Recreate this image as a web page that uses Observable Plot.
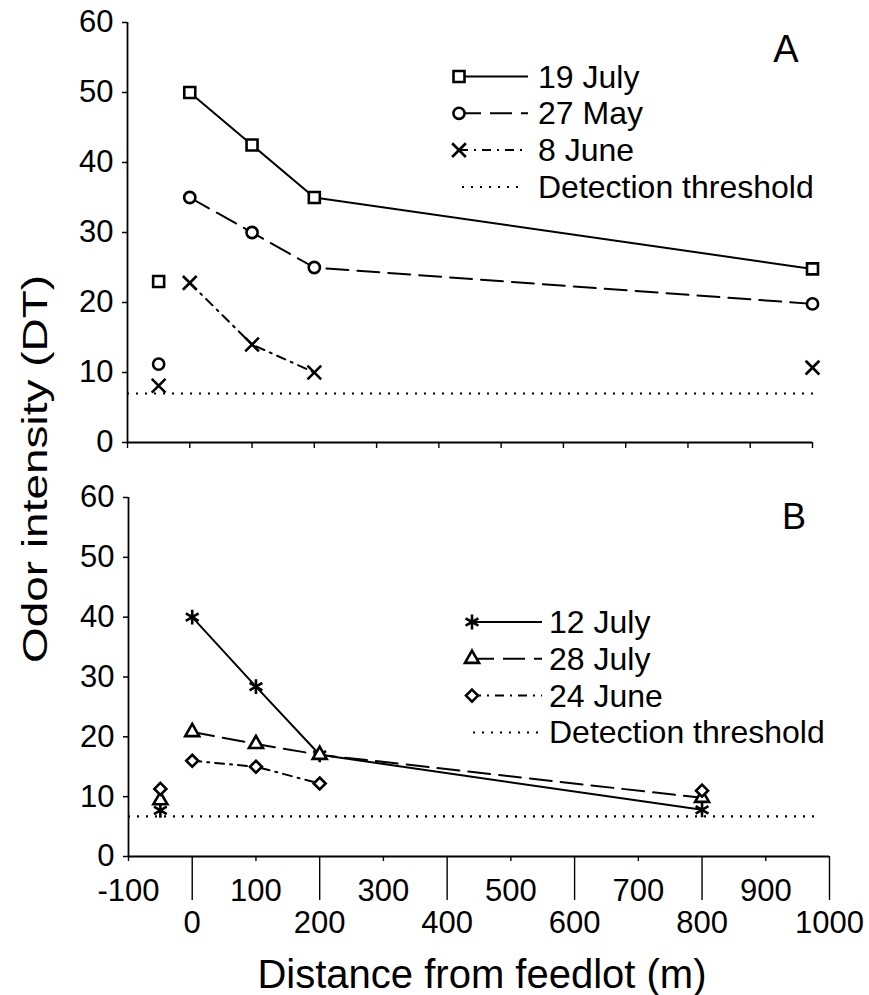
<!DOCTYPE html>
<html><head><meta charset="utf-8">
<script src="https://cdn.jsdelivr.net/npm/d3@7"></script>
<script src="https://cdn.jsdelivr.net/npm/@observablehq/plot@0.6"></script>
<style>
body{margin:0;background:#fff;}
#root{position:relative;width:869px;height:995px;background:#fff;font-family:"Liberation Sans",Arial,sans-serif;}
#root > svg{position:absolute;left:0;}
</style></head><body><div id="root"></div>
<script>
// ---------- data ----------
const seriesA = ["19 July", "27 May", "8 June"];
const distA = [-50, 0, 100, 200, 1000];
const july19A = [23, 50, 42.5, 35, 24.8];
const may27A = [11.2, 35, 30, 25, 19.8];
const june8A = [8.1, 22.8, 14, 10, 10.7];
const lineEndA = [1000, 1000, 200];

const seriesB = ["12 July", "28 July", "24 June"];
const distB = [-50, 0, 100, 200, 800];
const july12B = [7.7, 40, 28.4, 17, 7.8];
const july28B = [9.4, 20.8, 18.8, 17, 9.8];
const june24B = [11.3, 16, 15, 12.2, 11];
const lineEndB = [800, 800, 200];

const thresholdLabel = "Detection threshold";
const thresholdA = 7;
const thresholdB = 6.7;
const thresholdSpanA = [-100, 1010];
const thresholdSpanB = [-100, 980];

const xDomain = [-100, 1000];
const yDomain = [0, 60];
const yTicks = [0, 10, 20, 30, 40, 50, 60];
const xTicksAll = [-100, 0, 100, 200, 300, 400, 500, 600, 700, 800, 900, 1000];
const xTicksOdd = [-100, 100, 300, 500, 700, 900];
const xTicksEven = [0, 200, 400, 600, 800, 1000];

const xTitle = "Distance from feedlot (m)";
const yTitle = "Odor intensity (DT)";

// ---------- styles ----------
const FONT = "Liberation Sans, Arial, Helvetica, sans-serif";
const dashes = [null, "22,9", "9,6,2,6"];
const symbolsA = ["square", "circle", "times"];
const symbolsB = ["asterisk", "triangle", "diamond2"];
const radiiA = [6.2, 5.6, 6.3];
const radiiB = [7, 5.2, 5.4];
const DOT_SW = 2.6;
const LINE_SW = 2;

function buildRows(series, dist, values) {
  const rows = [];
  series.forEach((name, i) => values[i].forEach((v, j) => rows.push({series: name, idx: i, x: dist[j], y: v})));
  return rows;
}

function panel(o) {
  const rows = buildRows(o.series, o.dist, o.values);
  const marks = [
    Plot.ruleY([o.threshold], {x1: o.thrSpan[0], x2: o.thrSpan[1], stroke: "#000", strokeWidth: 2.2, strokeDasharray: "2,7"}),
    Plot.ruleX([xDomain[0]], {y1: yDomain[0], y2: yDomain[1], stroke: "#000", strokeWidth: 1.8}),
    Plot.ruleY([yDomain[0]], {x1: xDomain[0], x2: xDomain[1], stroke: "#000", strokeWidth: 1.8}),
    Plot.axisY({ticks: yTicks, tickSize: 5, tickPadding: 9, tickFormat: d => String(d), label: null, strokeWidth: 1.5})
  ];
  if (o.labeled) {
    marks.push(Plot.axisX({ticks: xTicksEven, tickSize: 44, tickPadding: 10, tickFormat: d => String(d), label: null, strokeWidth: 1.4}));
    marks.push(Plot.axisX({ticks: xTicksOdd, tickSize: 5, tickPadding: 17, tickFormat: d => String(d), label: null, strokeWidth: 1.4}));
  } else {
    marks.push(Plot.axisX({ticks: xTicksAll, tickSize: 6, tickFormat: () => "", label: null, strokeWidth: 1.4}));
  }
  o.series.forEach((name, i) => {
    marks.push(Plot.line(rows.filter(r => r.idx === i && r.x >= 0 && r.x <= o.lineEnd[i]),
      {x: "x", y: "y", stroke: "#000", strokeWidth: LINE_SW, strokeDasharray: dashes[i] || undefined}));
  });
  o.series.forEach((name, i) => {
    marks.push(Plot.dot(rows.filter(r => r.idx === i),
      {x: "x", y: "y", symbol: o.symbols[i], r: o.radii[i], fill: "white", stroke: "#000", strokeWidth: DOT_SW}));
  });
  return Plot.plot({
    width: 869, height: o.height,
    marginLeft: o.ml, marginRight: o.mr, marginTop: o.mt, marginBottom: o.mb,
    x: {domain: xDomain},
    y: {domain: yDomain},
    style: {fontFamily: FONT, fontSize: "31px", color: "#000", background: "transparent", overflow: "visible"},
    marks
  });
}

const root = document.getElementById("root");
const plotA = panel({series: seriesA, dist: distA, values: [july19A, may27A, june8A], lineEnd: lineEndA,
  threshold: thresholdA, thrSpan: thresholdSpanA, symbols: symbolsA, radii: radiiA, labeled: false,
  height: 460, ml: 127, mr: 57, mt: 22, mb: 18});
plotA.style.top = "0px";
root.appendChild(plotA);

const plotB = panel({series: seriesB, dist: distB, values: [july12B, july28B, june24B], lineEnd: lineEndB,
  threshold: thresholdB, thrSpan: thresholdSpanB, symbols: symbolsB, radii: radiiB, labeled: true,
  height: 535, ml: 128, mr: 40, mt: 37, mb: 139});
plotB.style.top = "460px";
root.appendChild(plotB);

// ---------- overlay: titles, panel letters, legends ----------
const symType = {square: d3.symbolSquare, circle: d3.symbolCircle, times: d3.symbolTimes,
  asterisk: d3.symbolAsterisk, triangle: d3.symbolTriangle, diamond2: d3.symbolDiamond2};
const ov = d3.select(root).append("svg").attr("width", 869).attr("height", 995)
  .style("top", "0px").style("pointer-events", "none").style("font-family", FONT);

ov.append("text").attr("transform", "translate(47,469) rotate(-90)")
  .attr("text-anchor", "middle").attr("font-size", 35)
  .attr("textLength", 388).attr("lengthAdjust", "spacingAndGlyphs").text(yTitle);
ov.append("text").attr("x", 482).attr("y", 988).attr("text-anchor", "middle")
  .attr("font-size", 40).text(xTitle);
ov.append("text").attr("x", 786).attr("y", 62).attr("text-anchor", "middle").attr("font-size", 38).text("A");
ov.append("text").attr("x", 794).attr("y", 529).attr("text-anchor", "middle").attr("font-size", 36).text("B");

function legend(series, symbols, radii, x0, x1, xt, yc, step, thrX0) {
  series.concat([thresholdLabel]).forEach((name, i) => {
    const y = yc + i * step;
    const g = ov.append("g");
    if (i < series.length) {
      g.append("line").attr("x1", x0).attr("x2", x1).attr("y1", y).attr("y2", y)
        .attr("stroke", "#000").attr("stroke-width", LINE_SW).attr("stroke-dasharray", dashes[i]);
      g.append("path").attr("transform", `translate(${x0},${y})`)
        .attr("d", d3.symbol(symType[symbols[i]], radii[i] * radii[i] * Math.PI)())
        .attr("fill", "white").attr("stroke", "#000").attr("stroke-width", DOT_SW);
    } else {
      g.append("line").attr("x1", thrX0).attr("x2", x1 - 4).attr("y1", y).attr("y2", y)
        .attr("stroke", "#000").attr("stroke-width", 2).attr("stroke-dasharray", "2,7");
    }
    g.append("text").attr("x", xt).attr("y", y + 11).attr("font-size", 32).text(name);
  });
}
legend(seriesA, symbolsA, radiiA, 459, 528, 538, 76.5, 36.8, 462);
legend(seriesB, symbolsB, radiiB, 472, 542, 549, 622, 36.8, 473);
</script></body></html>
